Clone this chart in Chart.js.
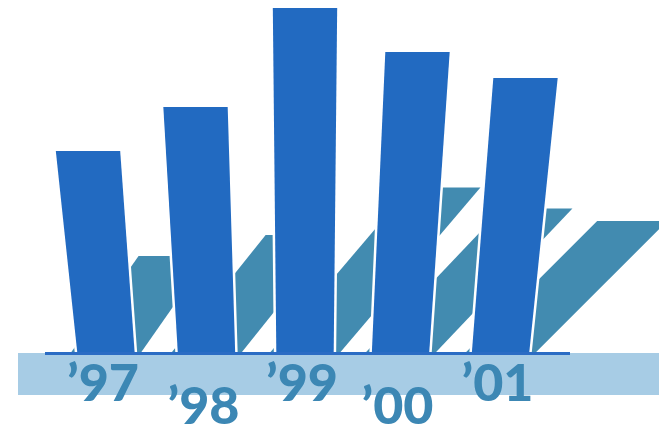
<!DOCTYPE html>
<html>
<head>
<meta charset="utf-8">
<script src="https://cdn.jsdelivr.net/npm/chart.js@4/dist/chart.umd.min.js"></script>
<style>
  html, body { margin: 0; padding: 0; background: #ffffff; }
  #wrap { width: 659px; height: 427px; }
</style>
</head>
<body>
<div id="wrap"><canvas id="c" width="659" height="427"></canvas></div>
<script>
// ---- data ----
const categories = ["’97", "’98", "’99", "’00", "’01"];
const values = [202, 246, 345, 301, 275];
const yMax = 350;

// ---- style (not data) ----
const barLean = [-18, -11, 0, 17, 25];          // top-center offset vs bottom-center
const shadowLean = [0.7, 0.8, 0.85, 0.95, 1.0];  // horizontal shift per px of height
const labelLow = [false, true, false, true, false];
const colors = {
  bar: '#226ac1',
  shadow: '#428bb0',
  band: '#a7cce5',
  line: '#2b6cc4',
  label: '#3c87b4'
};

const decor = {
  id: 'decor',
  beforeDatasetsDraw(chart) {
    const ctx = chart.ctx;
    const area = chart.chartArea;
    const meta = chart.getDatasetMeta(0);
    ctx.save();

    // shadows
    meta.data.forEach((el, i) => {
      const p = el.getProps(['x', 'y', 'base', 'width'], true);
      const barH = p.base - p.y;
      const botC = p.x - barLean[i] / 2;
      const bR = botC + (p.width / 2 - 2) + 6;
      const bL = bR - 70;
      const h = 0.48 * barH;
      const tY = p.base - h;
      const dx = shadowLean[i] * h;
      ctx.fillStyle = colors.shadow;
      ctx.beginPath();
      ctx.moveTo(bL, p.base);
      ctx.lineTo(bR, p.base);
      ctx.lineTo(bR + dx, tY);
      ctx.lineTo(bL + dx, tY);
      ctx.closePath();
      ctx.fill();
    });

    // bars (tilted, slightly tapered)
    meta.data.forEach((el, i) => {
      const p = el.getProps(['x', 'y', 'base', 'width'], true);
      const topC = p.x + barLean[i] / 2;
      const botC = p.x - barLean[i] / 2;
      const tw = p.width / 2 + 1.5;
      const bw = p.width / 2 - 2;
      ctx.beginPath();
      ctx.moveTo(botC - bw, p.base);
      ctx.lineTo(topC - tw, p.y);
      ctx.lineTo(topC + tw, p.y);
      ctx.lineTo(botC + bw, p.base);
      ctx.closePath();
      ctx.lineJoin = 'miter';
      ctx.lineWidth = 5;
      ctx.strokeStyle = '#ffffff';
      ctx.stroke();
      ctx.fillStyle = colors.bar;
      ctx.fill();
    });

    // base band (over the bar feet)
    ctx.fillStyle = colors.band;
    ctx.fillRect(18, area.bottom, chart.width - 18, 42);

    // baseline
    ctx.fillStyle = colors.line;
    ctx.fillRect(area.left, area.bottom - 1, area.right - area.left + 5, 3);
    ctx.restore();
  },
  afterDraw(chart) {
    const ctx = chart.ctx;
    const meta = chart.getDatasetMeta(0);
    ctx.save();
    ctx.fillStyle = colors.label;
    ctx.font = '900 52px Lato, "Liberation Sans", sans-serif';
    ctx.textAlign = 'center';
    ctx.textBaseline = 'alphabetic';
    meta.data.forEach((el, i) => {
      const p = el.getProps(['x'], true);
      const botC = p.x - barLean[i] / 2;
      ctx.fillText(chart.data.labels[i], botC - 3, labelLow[i] ? 424 : 401);
    });
    ctx.restore();
  }
};

new Chart(document.getElementById('c'), {
  type: 'bar',
  data: {
    labels: categories,
    datasets: [{
      data: values,
      backgroundColor: 'rgba(0,0,0,0)',
      borderWidth: 0,
      categoryPercentage: 1.0,
      barPercentage: 0.59
    }]
  },
  options: {
    responsive: false,
    animation: false,
    devicePixelRatio: 1,
    layout: { padding: { left: 45, right: 94, top: 3, bottom: 74 } },
    plugins: { legend: { display: false }, tooltip: { enabled: false }, title: { display: false } },
    scales: {
      x: { display: false },
      y: { display: false, min: 0, max: yMax }
    }
  },
  plugins: [decor]
});
</script>
</body>
</html>
